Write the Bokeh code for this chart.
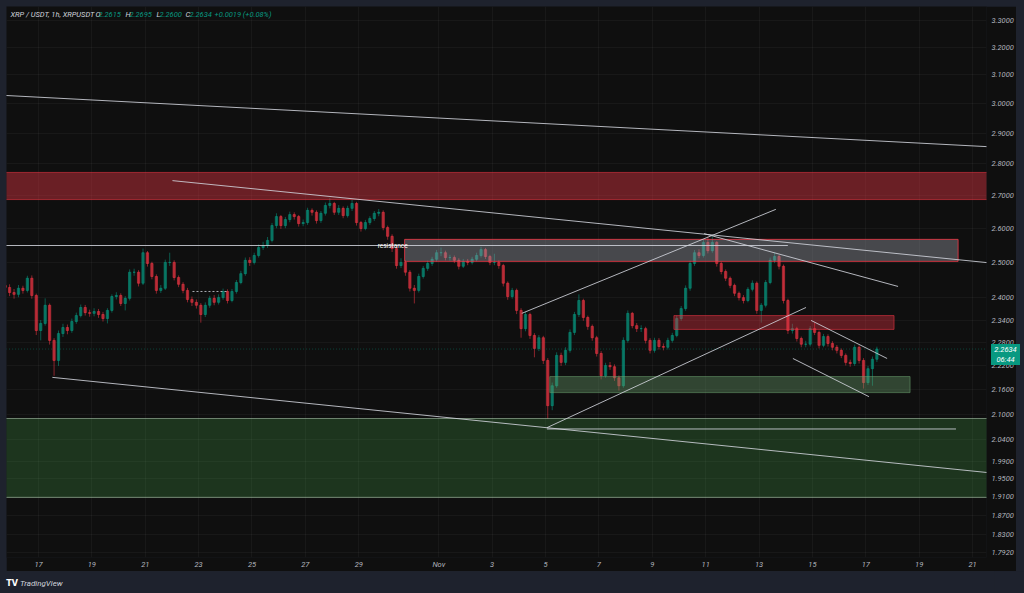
import pandas as pd
from bokeh.plotting import figure
from bokeh.models import Range1d, FixedTicker, PrintfTickFormatter, Label, ColumnDataSource, Div
from bokeh.layouts import column
from bokeh.embed import file_html
from bokeh.resources import INLINE
from bokeh.core.properties import value

# ---------------- data (XRP/USDT, 4h steps) ----------------
start_time = "2025-10-15 18:00"
first_open = 2.435

close = [
    2.429, 2.415, 2.410, 2.427, 2.421, 2.455, 2.407, 2.312, 2.331, 2.380,
    2.286, 2.234, 2.304, 2.320, 2.312, 2.336, 2.352, 2.374, 2.360, 2.358,
    2.363, 2.355, 2.344, 2.366, 2.404, 2.407, 2.385, 2.399, 2.472, 2.472,
    2.441, 2.528, 2.497, 2.460, 2.421, 2.427, 2.500, 2.500, 2.457, 2.438,
    2.421, 2.396, 2.388, 2.380, 2.355, 2.380, 2.399, 2.388, 2.401, 2.418,
    2.393, 2.418, 2.443, 2.468, 2.506, 2.500, 2.520, 2.543, 2.549, 2.564,
    2.608, 2.635, 2.608, 2.626, 2.641, 2.635, 2.614, 2.617, 2.654, 2.648,
    2.623, 2.645, 2.669, 2.675, 2.648, 2.660, 2.638, 2.660, 2.675, 2.617,
    2.599, 2.617, 2.629, 2.645, 2.648, 2.602, 2.576, 2.540, 2.491, 2.500,
    2.472, 2.427, 2.421, 2.460, 2.483, 2.497, 2.509, 2.528, 2.528, 2.514,
    2.514, 2.506, 2.489, 2.503, 2.500, 2.509, 2.520, 2.537, 2.517, 2.500,
    2.500, 2.491, 2.441, 2.404, 2.421, 2.366, 2.317, 2.355, 2.299, 2.265,
    2.293, 2.234, 2.121, 2.170, 2.247, 2.229, 2.260, 2.307, 2.355, 2.393,
    2.347, 2.323, 2.293, 2.252, 2.195, 2.221, 2.218, 2.190, 2.170, 2.286,
    2.358, 2.325, 2.317, 2.317, 2.286, 2.260, 2.286, 2.270, 2.268, 2.286,
    2.299, 2.344, 2.371, 2.427, 2.497, 2.528, 2.520, 2.558, 2.534, 2.558,
    2.497, 2.474, 2.455, 2.435, 2.413, 2.401, 2.393, 2.424, 2.441, 2.366,
    2.380, 2.443, 2.506, 2.517, 2.489, 2.393, 2.312, 2.317, 2.291, 2.276,
    2.276, 2.317, 2.307, 2.273, 2.296, 2.278, 2.268, 2.260, 2.247, 2.229,
    2.226, 2.268, 2.234, 2.178, 2.213, 2.237, 2.2634,
]

high = [
    2.445, 2.438, 2.425, 2.436, 2.434, 2.462, 2.463, 2.412, 2.340, 2.399,
    2.385, 2.292, 2.312, 2.330, 2.328, 2.344, 2.360, 2.382, 2.381, 2.368,
    2.372, 2.370, 2.362, 2.372, 2.410, 2.416, 2.413, 2.405, 2.480, 2.482,
    2.478, 2.540, 2.533, 2.502, 2.466, 2.436, 2.508, 2.528, 2.506, 2.463,
    2.444, 2.428, 2.404, 2.396, 2.386, 2.388, 2.406, 2.408, 2.410, 2.426,
    2.424, 2.425, 2.450, 2.476, 2.514, 2.515, 2.528, 2.552, 2.560, 2.574,
    2.616, 2.645, 2.640, 2.634, 2.650, 2.648, 2.640, 2.626, 2.662, 2.660,
    2.654, 2.652, 2.678, 2.692, 2.680, 2.670, 2.666, 2.668, 2.686, 2.680,
    2.622, 2.625, 2.636, 2.652, 2.658, 2.654, 2.608, 2.582, 2.546, 2.512,
    2.506, 2.478, 2.436, 2.468, 2.490, 2.505, 2.516, 2.536, 2.543, 2.534,
    2.522, 2.520, 2.512, 2.510, 2.510, 2.516, 2.528, 2.545, 2.542, 2.522,
    2.525, 2.506, 2.496, 2.446, 2.428, 2.426, 2.372, 2.362, 2.360, 2.305,
    2.300, 2.298, 2.240, 2.178, 2.255, 2.254, 2.268, 2.315, 2.362, 2.410,
    2.398, 2.352, 2.328, 2.298, 2.258, 2.228, 2.230, 2.224, 2.196, 2.294,
    2.366, 2.362, 2.332, 2.326, 2.322, 2.292, 2.293, 2.292, 2.278, 2.293,
    2.306, 2.352, 2.378, 2.435, 2.505, 2.536, 2.538, 2.566, 2.575, 2.575,
    2.562, 2.502, 2.480, 2.460, 2.440, 2.418, 2.408, 2.430, 2.449, 2.446,
    2.386, 2.450, 2.514, 2.528, 2.522, 2.494, 2.398, 2.330, 2.322, 2.296,
    2.285, 2.324, 2.333, 2.312, 2.303, 2.302, 2.284, 2.274, 2.265, 2.252,
    2.236, 2.275, 2.273, 2.240, 2.220, 2.244, 2.2695,
]

low = [
    2.420, 2.405, 2.398, 2.402, 2.412, 2.415, 2.398, 2.300, 2.286, 2.325,
    2.275, 2.195, 2.220, 2.295, 2.302, 2.306, 2.330, 2.347, 2.352, 2.349,
    2.350, 2.346, 2.336, 2.331, 2.360, 2.396, 2.378, 2.366, 2.393, 2.462,
    2.432, 2.436, 2.488, 2.452, 2.412, 2.414, 2.422, 2.490, 2.449, 2.430,
    2.413, 2.388, 2.378, 2.371, 2.333, 2.348, 2.373, 2.380, 2.382, 2.395,
    2.385, 2.388, 2.412, 2.438, 2.462, 2.490, 2.494, 2.514, 2.536, 2.542,
    2.558, 2.600, 2.598, 2.600, 2.618, 2.626, 2.605, 2.606, 2.610, 2.638,
    2.614, 2.616, 2.638, 2.660, 2.640, 2.640, 2.630, 2.632, 2.652, 2.608,
    2.590, 2.594, 2.610, 2.622, 2.636, 2.594, 2.566, 2.530, 2.482, 2.484,
    2.462, 2.418, 2.385, 2.415, 2.454, 2.476, 2.490, 2.502, 2.518, 2.506,
    2.505, 2.498, 2.480, 2.484, 2.492, 2.494, 2.503, 2.514, 2.510, 2.492,
    2.492, 2.482, 2.432, 2.395, 2.398, 2.356, 2.293, 2.310, 2.290, 2.242,
    2.258, 2.225, 2.090, 2.110, 2.165, 2.220, 2.222, 2.254, 2.300, 2.348,
    2.338, 2.314, 2.285, 2.244, 2.186, 2.190, 2.210, 2.182, 2.158, 2.165,
    2.280, 2.318, 2.308, 2.308, 2.278, 2.252, 2.254, 2.262, 2.260, 2.262,
    2.280, 2.294, 2.338, 2.365, 2.420, 2.490, 2.512, 2.514, 2.526, 2.528,
    2.488, 2.466, 2.447, 2.427, 2.405, 2.393, 2.385, 2.388, 2.418, 2.357,
    2.333, 2.374, 2.438, 2.498, 2.480, 2.385, 2.303, 2.304, 2.283, 2.268,
    2.268, 2.270, 2.300, 2.265, 2.268, 2.270, 2.260, 2.252, 2.240, 2.221,
    2.218, 2.220, 2.226, 2.163, 2.172, 2.170, 2.230,
]

# x axis: day number counted from Sep 30 (Oct 17 = 17, Nov 1 = 32)
x_tick_days = [17, 19, 21, 23, 25, 27, 29, 32, 34, 36, 38, 40, 42, 44, 46, 48, 50, 52]
x_tick_labels = ["17", "19", "21", "23", "25", "27", "29", "Nov", "3", "5", "7",
                 "9", "11", "13", "15", "17", "19", "21"]
y_ticks = [3.3, 3.2, 3.1, 3.0, 2.9, 2.8, 2.7, 2.6, 2.5, 2.4, 2.34, 2.28, 2.22,
           2.16, 2.10, 2.04, 1.99, 1.95, 1.91, 1.87, 1.83, 1.792]

# zones: (start day, end day, bottom price, top price)
zone_top_red = (10.0, 60.0, 2.687, 2.772)
zone_gray = (30.72, 51.46, 2.503, 2.567)
zone_mid_red = (40.81, 49.06, 2.315, 2.352)
zone_small_green = (36.16, 49.66, 2.153, 2.193)
zone_big_green = (10.0, 60.0, 1.909, 2.090)

# trend lines: start day, start price, end day, end price
line_x0 = [15.76, 22.02, 17.52, 35.11, 36.05, 36.05, 41.94, 45.95, 45.27, 15.70]
line_y0 = [3.028, 2.746, 2.191, 2.358, 2.068, 2.065, 2.584, 2.339, 2.239, 2.549]
line_x1 = [52.60, 52.60, 52.60, 44.63, 45.76, 51.38, 49.21, 48.80, 48.12, 45.08]
line_y1 = [2.855, 2.499, 1.964, 2.657, 2.374, 2.065, 2.432, 2.239, 2.143, 2.549]
dash_x0, dash_x1, dash_y = 22.77, 24.10, 2.418
resistance_day, resistance_price = 30.27, 2.549

header_parts = [("XRP / USDT, 1h, XRPUSDT", "#d1d4dc"), ("O", "#d1d4dc"), ("2.2615", "#089981"),
                ("H", "#d1d4dc"), ("2.2695", "#089981"), ("L", "#d1d4dc"), ("2.2600", "#089981"),
                ("C", "#d1d4dc"), ("2.2634", "#089981"), ("+0.0019 (+0.08%)", "#089981")]
header_x = [4, 89, 92, 119, 123, 150, 153, 179, 183, 208]
countdown = "06:44"

# ---------------- derived ----------------
times = pd.date_range(start_time, periods=len(close), freq="4h")
xs = list((times - pd.Timestamp("2025-09-30")) / pd.Timedelta(days=1))
opens = [first_open] + close[:-1]
GREEN, RED = "#089981", "#f23645"
colors = [GREEN if c >= o else RED for o, c in zip(opens, close)]
src = ColumnDataSource(dict(x=xs, o=opens, c=close, h=high, l=low, col=colors))

FONT = "Roboto"
BG = "#0f0f0f"
FRAME_BG = "#1e222d"

p = figure(frame_width=980, frame_height=551, x_range=Range1d(15.801, 52.524),
           y_range=Range1d(1.7818, 3.3535), y_axis_type="log", y_axis_location="right",
           output_backend="svg", toolbar_location=None,
           min_border_left=0, min_border_top=0, min_border_right=0, min_border_bottom=0,
           margin=(6, 0, 0, 6),
           background_fill_color=BG, border_fill_color=BG, outline_line_color=None)

p.xaxis.ticker = FixedTicker(ticks=x_tick_days)
p.xaxis.major_label_overrides = {d: s for d, s in zip(x_tick_days, x_tick_labels)}
p.yaxis.ticker = FixedTicker(ticks=y_ticks)
p.yaxis.formatter = PrintfTickFormatter(format="%.4f")
for ax in (p.xaxis, p.yaxis):
    ax.axis_line_color = None
    ax.major_tick_line_color = None
    ax.minor_tick_line_color = None
    ax.major_tick_out = 0
    ax.major_tick_in = 0
    ax.minor_tick_out = 0
    ax.major_label_text_color = "#b2b5be"
    ax.major_label_text_font_size = "7.5px"
    ax.major_label_text_font = FONT
    ax.major_label_text_font_style = "italic"
p.xaxis.major_label_standoff = 2
p.yaxis.major_label_standoff = 5
p.grid.grid_line_color = "#ffffff"
p.grid.grid_line_alpha = 0.04

# candles
p.segment(x0="x", x1="x", y0="l", y1="h", color="col", line_alpha=0.55, line_width=1, source=src)
p.vbar(x="x", width=0.085, top="o", bottom="c", fill_color="col", line_color="col",
       fill_alpha=0.55, line_alpha=0.55, source=src)

def zone(z, fill, falpha, line, lalpha):
    p.quad(left=[z[0]], right=[z[1]], bottom=[z[2]], top=[z[3]], fill_color=fill,
           fill_alpha=falpha, line_color=line, line_alpha=lalpha, line_width=1)

zone(zone_top_red, RED, 0.4, RED, 0.55)
zone(zone_gray, "#9598a1", 0.42, RED, 0.8)
zone(zone_mid_red, RED, 0.36, RED, 0.55)
zone(zone_small_green, "#6a9f6d", 0.38, "#6a9f6d", 0.55)
zone(zone_big_green, "#4caf50", 0.24, "#c8e6c9", 0.5)

p.segment(x0=line_x0, y0=line_y0, x1=line_x1, y1=line_y1, line_color="#d1d4dc",
          line_alpha=0.85, line_width=1)
p.segment(x0=[dash_x0], y0=[dash_y], x1=[dash_x1], y1=[dash_y], line_color="#d1d4dc",
          line_alpha=0.8, line_width=1, line_dash="2 2")
p.segment(x0=[15.0], y0=[close[-1]], x1=[60.0], y1=[close[-1]], line_color=GREEN,
          line_alpha=0.4, line_width=1, line_dash="1 2")
p.text(x=[resistance_day], y=[resistance_price], text=["resistance"], text_color="#ffffff",
       text_font=value(FONT), text_font_size="6.5px", text_align="center",
       text_baseline="middle")

for (txt, col), hx in zip(header_parts, header_x):
    p.add_layout(Label(x=hx, y=543, x_units="screen", y_units="screen", text=txt,
                       text_color=col, text_font=FONT, text_font_size="7.5px",
                       text_font_style="italic", text_baseline="middle"))

# last-price tag on the price axis (HTML overlay, positioned over the axis)
price_tag = Div(
    text=(f"<div style='background:{GREEN};color:#ffffff;font:italic 7.5px Roboto;"
          f"width:29px;height:21px;text-align:center;line-height:10px;padding-top:1px;"
          f"box-sizing:border-box'>{close[-1]:.4f}<br>{countdown}</div>"),
    width=29, height=21,
    styles={"position": "absolute", "left": "986px", "top": "339px", "z-index": "10"})

# footer band
f = figure(width=1024, height=23, x_range=Range1d(0, 1024), y_range=Range1d(0, 23),
           output_backend="svg", toolbar_location=None, min_border=0,
           background_fill_color=FRAME_BG, border_fill_color=FRAME_BG, outline_line_color=None)
f.axis.visible = False
f.grid.visible = False
f.text(x=[6], y=[11], text=["TV"], text_color="#ffffff", text_font=value("DejaVu Sans"),
       text_font_size="8px", text_font_style="bold", text_baseline="middle")
f.text(x=[20], y=[11], text=["TradingView"], text_color="#d1d4dc", text_font=value(FONT),
       text_font_size="8px", text_font_style="italic", text_baseline="middle")

layout = column(p, f, price_tag, spacing=0,
                styles={"background-color": FRAME_BG, "position": "relative"})
open("out.html", "w").write(file_html(layout, INLINE))
